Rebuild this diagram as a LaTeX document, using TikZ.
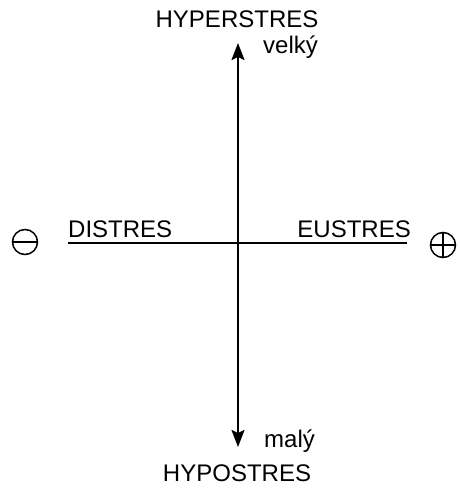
\documentclass[tikz,border=0pt]{standalone}
\usepackage{fontspec}
\setmainfont{Liberation Sans}
\usetikzlibrary{positioning,arrows.meta}
\tikzset{
  axis/.style={draw=black, line width=2pt},
  axisv/.style={axis, {Stealth[length=17pt,width=13pt,inset=3pt]}-{Stealth[length=17pt,width=13pt,inset=3pt]}},
  axish/.style={draw=black, line width=1.5pt},
  pole/.style={font=\fontsize{24}{28}\selectfont, inner sep=0pt},
  tag/.style={pole, anchor=base west},
  sign/.style={circle, draw=black, line width=1.5pt, minimum size=25pt, inner sep=0pt},
  bar/.style={draw=black, line width=1.5pt},
}

\begin{document}
\begin{tikzpicture}[x=1pt,y=-1pt]
  \useasboundingbox (0,0) rectangle (459,488);

  %====================== AXES ======================
  \coordinate (top) at (238,43);
  \coordinate (bot) at (238,447);
  \coordinate (lft) at (68,243);
  \coordinate (rgt) at (407,243);

  \draw[axisv] (top) -- (bot);
  \draw[axish] (lft) -- (rgt);

  %====================== LABELS ======================
  \node[pole] (hyper) at (237,19) {HYPERSTRES};
  \node[pole] (hypo) at (237,473) {HYPOSTRES};
  \node[pole, anchor=base west] (dis) at (68,237) {DISTRES};
  \node[pole, anchor=base east] (eu) at (411,237) {EUSTRES};
  \node[tag] (big) at (263,53) {velký};
  \node[tag] (small) at (264,447) {malý};

  %====================== SIGNS ======================
  \node[sign] (minus) at (25,242) {};
  \draw[bar] (minus.west) -- (minus.east);

  \node[sign] (plus) at (443,245) {};
  \draw[bar] (plus.west) -- (plus.east);
  \draw[bar] (plus.north) -- (plus.south);

\end{tikzpicture}
\end{document}
